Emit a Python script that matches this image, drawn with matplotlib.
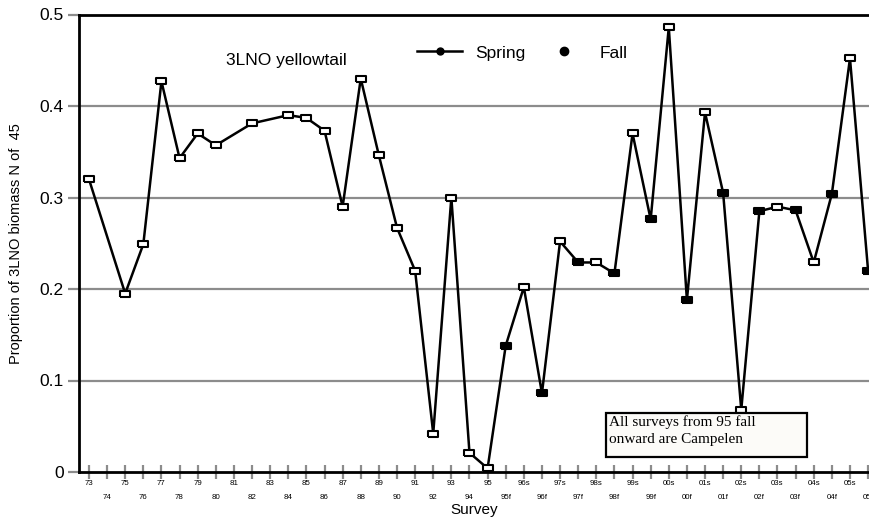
import numpy as np
import matplotlib
matplotlib.use("Agg")
import matplotlib.pyplot as plt
from matplotlib.lines import Line2D
from matplotlib.patches import Rectangle

plt.rcParams['font.family'] = ['Liberation Sans', 'DejaVu Sans']

# --- data ---
surveys = ["73", "74", "75", "76", "77", "78", "79", "80", "81", "82", "83", "84",
           "85", "86", "87", "88", "89", "90", "91", "92", "93", "94", "95",
           "95f", "96s", "96f", "97s", "97f", "98s", "98f", "99s", "99f",
           "00s", "00f", "01s", "01f", "02s", "02f", "03s", "03f", "04s", "04f",
           "05s", "05f"]
proportion = [0.320, None, 0.195, 0.249, 0.427, 0.343, 0.370, 0.357, None, 0.381, None, 0.390,
              0.387, 0.373, 0.290, 0.430, 0.346, 0.267, 0.220, 0.042, 0.300, 0.021, 0.004,
              0.138, 0.202, 0.086, 0.252, 0.229, 0.229, 0.217, 0.370, 0.276,
              0.486, 0.188, 0.393, 0.305, 0.068, 0.285, 0.290, 0.286, 0.229, 0.304,
              0.452, 0.220]
y_ticks = [0, 0.1, 0.2, 0.3, 0.4, 0.5]
y_ticklabels = ["0", "0.1", "0.2", "0.3", "0.4", "0.5"]

x = np.arange(len(surveys))
y = np.array([np.nan if v is None else v for v in proportion])
ok = ~np.isnan(y)
is_fall = np.array([s.endswith("f") for s in surveys])

# small rounded-rectangle-ish marker like the original
rect_marker = [(-1, -0.6), (1, -0.6), (1, 0.6), (-1, 0.6), (-1, -0.6)]

fig = plt.figure(figsize=(8.69, 5.2), dpi=100)
ax = fig.add_axes([79 / 869, 48 / 520, 790 / 869, 457.5 / 520])

grey = "#8c8c8c"
for v in y_ticks[1:-1]:
    ax.axhline(v, color=grey, lw=1.6, zorder=1)

ax.plot(x[ok], y[ok], color="black", lw=1.8, zorder=3)
sp = ok & ~is_fall
fa = ok & is_fall
ax.plot(x[sp], y[sp], ls="none", marker=rect_marker, ms=7, mfc="white",
        mec="black", mew=1.5, zorder=4)
ax.plot(x[fa], y[fa], ls="none", marker=rect_marker, ms=7, mfc="black",
        mec="black", mew=1.5, zorder=4)

ax.set_xlim(-0.55, 43.05)
ax.set_ylim(0, 0.5)

# y axis
ax.set_yticks(y_ticks, y_ticklabels)
ax.tick_params(axis="y", direction="out", length=8, width=1.6, color=grey,
               labelsize=12.5, pad=3)

# x axis: two staggered rows of labels
ax.set_xticks(x[::2], surveys[::2])
ax.set_xticks(x[1::2], surveys[1::2], minor=True)
ax.tick_params(axis="x", which="both", direction="inout", length=10, width=1.6,
               color=grey, labelsize=5.7)
ax.tick_params(axis="x", which="major", pad=1)
ax.tick_params(axis="x", which="minor", pad=10.5)

for side in ["left", "bottom", "top"]:
    ax.spines[side].set_linewidth(2)
    ax.spines[side].set_color("black")
ax.spines["right"].set_visible(False)

ax.set_xlabel("Survey", fontsize=11, labelpad=2)
ax.set_ylabel("Proportion of 3LNO biomass N of  45", fontsize=10.5)
ax.yaxis.set_label_coords(-0.071, 0.5)

ax.text(0.186, 0.90, "3LNO yellowtail", transform=ax.transAxes, fontsize=12.5,
        ha="left", va="center")

handles = [
    Line2D([], [], color="black", lw=1.8, marker="o", ms=5, mfc="black", mec="black"),
    Line2D([], [], ls="none", marker="o", ms=6, mfc="black", mec="black"),
]
ax.legend(handles, ["Spring", "Fall"], ncol=2, loc="center left",
          bbox_to_anchor=(0.428, 0.916), frameon=False, fontsize=12.5,
          handlelength=2.6, handletextpad=0.75, columnspacing=0.9,
          borderpad=0, borderaxespad=0)

# note box
ax.add_patch(Rectangle((0.667, 0.033), 0.2545, 0.096, transform=ax.transAxes,
                       facecolor="#fcfbf8", edgecolor="black", lw=1.6, zorder=5))
ax.text(0.671, 0.1246, "All surveys from 95 fall\nonward are Campelen",
        transform=ax.transAxes, fontsize=11, family="Liberation Serif",
        ha="left", va="top", linespacing=1.45, zorder=6)

fig.savefig("out.png", dpi=100)
